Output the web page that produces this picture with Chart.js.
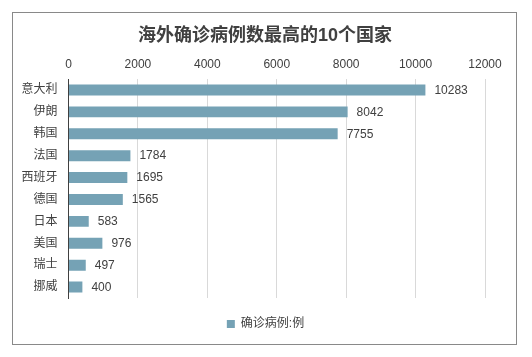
<!DOCTYPE html>
<html>
<head>
<meta charset="utf-8">
<script src="https://cdn.jsdelivr.net/npm/chart.js@4"></script>
<style>
html,body{margin:0;padding:0;background:#fff;}
#wrap{position:relative;width:532px;height:357px;}
</style>
</head>
<body>
<div id="wrap"><canvas id="c" width="532" height="357"></canvas></div>
<script>
const categories = ["意大利","伊朗","韩国","法国","西班牙","德国","日本","美国","瑞士","挪威"];
const cases = [10283, 8042, 7755, 1784, 1695, 1565, 583, 976, 497, 400];
const xTicks = [0, 2000, 4000, 6000, 8000, 10000, 12000];
const seriesName = "确诊病例:例";
const chartTitle = "海外确诊病例数最高的10个国家";

const FONT = "'Liberation Sans', 'Noto Sans CJK SC', sans-serif";
const TXT = '#404040';
const BAR = '#75A2B5';

const framePlugin = {
  id: 'frame',
  afterLayout(chart) {
    const lg = chart.legend;
    if (lg) { lg.left += 17; lg.right += 17; }
  },
  beforeDraw(chart) {
    const ctx = chart.ctx;
    ctx.save();
    ctx.fillStyle = '#fff';
    ctx.fillRect(0, 0, chart.width, chart.height);
    ctx.strokeStyle = '#898989';
    ctx.lineWidth = 1;
    ctx.strokeRect(12.5, 12.5, 504, 332);
    ctx.font = 'bold 18px ' + FONT;
    ctx.fillStyle = '#404040';
    ctx.textAlign = 'center';
    ctx.textBaseline = 'middle';
    ctx.fillText(chartTitle, 265, 36);
    ctx.restore();
  }
};

const valueLabels = {
  id: 'valueLabels',
  afterDatasetsDraw(chart) {
    const ctx = chart.ctx;
    const meta = chart.getDatasetMeta(0);
    ctx.save();
    ctx.font = '12px ' + FONT;
    ctx.fillStyle = TXT;
    ctx.textAlign = 'left';
    ctx.textBaseline = 'middle';
    meta.data.forEach((el, i) => {
      ctx.fillText(String(chart.data.datasets[0].data[i]), el.x + 9, el.y + 0.5);
    });
    ctx.restore();
  }
};

new Chart(document.getElementById('c'), {
  type: 'bar',
  data: {
    labels: categories,
    datasets: [{
      label: seriesName,
      data: cases,
      backgroundColor: BAR,
      borderWidth: 0,
      barPercentage: 0.5,
      categoryPercentage: 1.0
    }]
  },
  options: {
    indexAxis: 'y',
    responsive: false,
    animation: false,
    devicePixelRatio: 1,
    layout: { padding: { left: 12, right: 47, top: 55, bottom: 17 } },
    plugins: {
      title: { display: false },
      legend: {
        display: true,
        position: 'bottom',
        labels: {
          color: TXT,
          font: { family: FONT, size: 12 },
          boxWidth: 8,
          boxHeight: 8,
          padding: 20
        }
      },
      tooltip: { enabled: false }
    },
    scales: {
      x: {
        position: 'top',
        min: 0,
        max: 12000,
        afterBuildTicks(scale) { scale.ticks = xTicks.map(v => ({ value: v })); },
        afterFit(scale) { scale.height = 24; },
        ticks: { color: TXT, font: { family: FONT, size: 12 }, padding: 7, maxRotation: 0,
                 callback: v => String(v) },
        grid: { color: '#d9d9d9', drawTicks: false },
        border: { display: false }
      },
      y: {
        afterFit(scale) { scale.width = 56.5; },
        ticks: { color: TXT, font: { family: FONT, size: 12 }, padding: 11 },
        grid: { display: false, drawTicks: false },
        border: { display: true, color: '#404040', width: 1 }
      }
    }
  },
  plugins: [framePlugin, valueLabels]
});
</script>
</body>
</html>
